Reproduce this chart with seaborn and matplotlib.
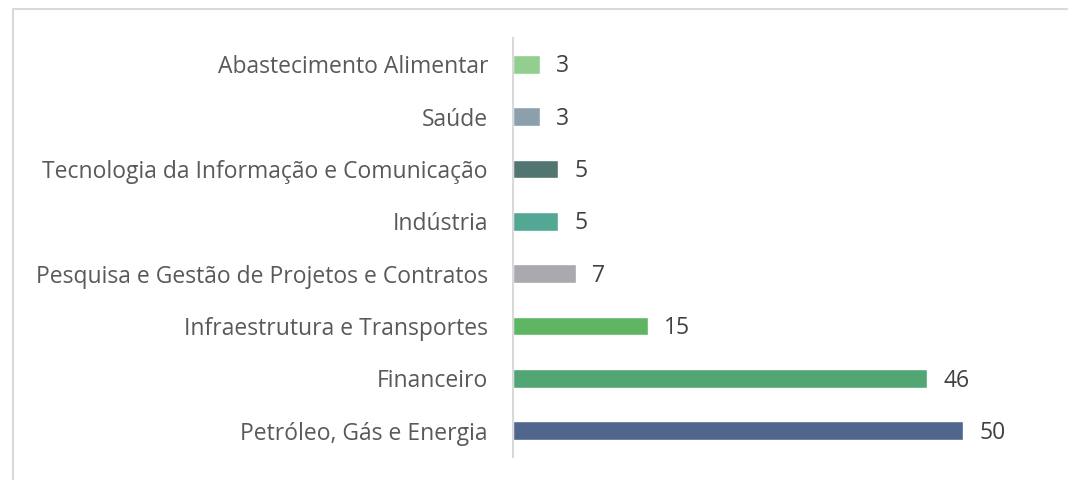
import matplotlib
matplotlib.use("Agg")
import matplotlib.pyplot as plt
from matplotlib.patches import Rectangle
import seaborn as sns
import pandas as pd

categories = [
    "Abastecimento Alimentar",
    "Saúde",
    "Tecnologia da Informação e Comunicação",
    "Indústria",
    "Pesquisa e Gestão de Projetos e Contratos",
    "Infraestrutura e Transportes",
    "Financeiro",
    "Petróleo, Gás e Energia",
]
values = [3, 3, 5, 5, 7, 15, 46, 50]
colors = ["#92CE8E", "#8BA0AC", "#517570", "#53A795",
          "#A9A9AE", "#5EB663", "#51A674", "#51668C"]

sns.set_theme(style="white")
plt.rcParams["font.family"] = ["Open Sans", "DejaVu Sans"]

df = pd.DataFrame({"setor": categories, "n": values})

fig = plt.figure(figsize=(10.68, 4.8), dpi=100)
ax = fig.add_axes([513 / 1068, 1 - 457 / 480, (1035 - 513) / 1068, (457 - 38) / 480])

sns.barplot(data=df, x="n", y="setor", hue="setor", palette=colors,
            legend=False, width=0.36, saturation=1, ax=ax, orient="h")

ax.set_xlim(0, 58)
ax.set_ylim(7.5, -0.5)
ax.set_xlabel("")
ax.set_ylabel("")
ax.set_xticks([])
for s in ["top", "right", "bottom"]:
    ax.spines[s].set_visible(False)
ax.spines["left"].set_color("#D9D9D9")
ax.spines["left"].set_linewidth(1.5)
ax.tick_params(axis="y", length=0, pad=18, labelsize=16.5, labelcolor="#595959")

# value labels just past the end of each bar
for i, v in enumerate(values):
    ax.text(v + 1.8, i + 0.04, str(v), va="center", ha="left",
            fontsize=16.5, color="#404040")

# light frame around the chart area
fig.patches.append(Rectangle((13 / 1068, -0.05), 1.1, 1 - 9 / 480 + 0.05,
                             transform=fig.transFigure, fill=False,
                             edgecolor="#D9D9D9", linewidth=1.5))

fig.savefig("out.png", dpi=100)
